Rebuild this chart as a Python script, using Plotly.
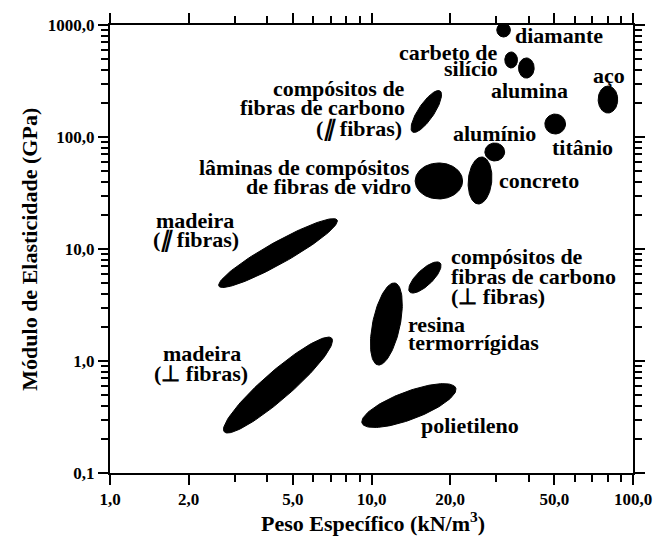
import math
import numpy as np
import plotly.graph_objects as go

# ---------------- data ----------------
materials = ["diamante", "carbeto de silício", "alumina", "aço", "titânio", "alumínio",
             "concreto", "lâminas de compósitos de fibras de vidro",
             "compósitos de fibras de carbono (∥ fibras)", "madeira (∥ fibras)",
             "madeira (⊥ fibras)", "compósitos de fibras de carbono (⊥ fibras)",
             "resina termorrígidas", "polietileno"]
# centre of each region (specific weight kN/m3, modulus GPa)
dens_center = [32.0, 34.2, 39.1, 80.2, 50.4, 29.6, 26.0, 18.1, 16.2, 4.39, 4.39, 16.0, 11.4, 13.9]
mod_center = [902, 487, 413, 216, 130.6, 73.5, 40.9, 40.5, 169, 9.2, 0.61, 5.57, 2.14, 0.40]
# end of the major axis of each region
dens_tip = [32.0, 34.2, 39.1, 80.2, 55.2, 32.3, 26.5, 22.3, 18.3, 7.39, 7.05, 18.3, 12.3, 21.0]
mod_tip = [1042, 574, 508, 285, 130.6, 73.5, 66.3, 40.5, 257.5, 18.15, 1.595, 7.5, 4.97, 0.574]

# label lines: text, specific weight, modulus, anchor
label_text = ["diamante", "carbeto de", "silício", "alumina", "aço",
              "compósitos de", "fibras de carbono", "(<i>∥</i> fibras)",
              "alumínio", "titânio", "lâminas de compósitos", "de fibras de vidro",
              "concreto", "madeira", "(<i>∥</i> fibras)",
              "compósitos de", "fibras de carbono", "(⊥ fibras)",
              "resina", "termorrígidas", "madeira", "(⊥ fibras)", "polietileno"]
label_dens = [34.9, 30.9, 30.9, 40.1, 80.6, 13.64, 13.64, 13.3, 29.6, 63.9, 14.24, 14.37,
              30.2, 2.118, 2.136, 19.77, 19.77, 19.77, 13.52, 13.52, 2.25, 2.23, 23.7]
label_mod = [798, 574, 413, 257.6, 357.7, 273.8, 181.6, 117.9, 106.4, 81.4, 52.9, 35.8,
             40.5, 17.8, 12.03, 8.66, 5.74, 3.73, 2.10, 1.478, 1.155, 0.781, 0.268]
label_anchor = ["left", "right", "right", "center", "center", "right", "right", "right",
                "center", "center", "right", "right", "left", "center", "center",
                "left", "left", "left", "left", "left", "center", "center", "center"]

x_tickvals = [1, 2, 5, 10, 20, 50, 100]
x_ticktext = ["1,0", "2,0", "5,0", "10,0", "20,0", "50,0", "100,0"]
y_tickvals = [0.1, 1, 10, 100, 1000]
y_ticktext = ["0,1", "1,0", "10,0", "100,0", "1000,0"]

# ---------------- style / layout ----------------
W, H = 664, 541
ML, MT = 110, 25
PW, PH = 534, 448
MR, MB = W - ML - PW, H - MT - PH
XR, YR = (0, 2), (-1, 3)
SX = PW / (XR[1] - XR[0])   # px per decade
SY = PH / (YR[1] - YR[0])
minor_px = [7, 6.5, 8, 10, 10, 9, 12, 18, 8, 11, 14, 8, 14, 14]

FONT = "Liberation Serif, Times New Roman, serif"

fig = go.Figure()
t = np.linspace(0, 2 * np.pi, 120)
for i, name in enumerate(materials):
    uc, vc = math.log10(dens_center[i]) * SX, math.log10(mod_center[i]) * SY
    ut, vt = math.log10(dens_tip[i]) * SX, math.log10(mod_tip[i]) * SY
    a = math.hypot(ut - uc, vt - vc)
    ex, ey = (ut - uc) / a, (vt - vc) / a
    b = minor_px[i]
    u = uc + a * np.cos(t) * ex - b * np.sin(t) * ey
    v = vc + a * np.cos(t) * ey + b * np.sin(t) * ex
    fig.add_trace(go.Scatter(x=10 ** (u / SX), y=10 ** (v / SY), mode="lines",
                             fill="toself", fillcolor="black",
                             line=dict(color="black", width=1), name=name,
                             hoverinfo="name", showlegend=False))

for txt, xd, yd, anc in zip(label_text, label_dens, label_mod, label_anchor):
    fig.add_annotation(x=math.log10(xd), y=math.log10(yd), xref="x", yref="y",
                       text=txt, showarrow=False, xanchor=anc, yanchor="middle",
                       font=dict(family=FONT, size=22, color="black", weight="bold"))

axis_common = dict(type="log", showline=True, linecolor="black", linewidth=2,
                   mirror="ticks", ticks="outside", ticklen=10, tickwidth=2,
                   tickcolor="black", showgrid=False, zeroline=False,
                   tickfont=dict(family=FONT, size=17, color="black", weight="bold"))

x_minor = [v * d for d in (1, 10) for v in (3, 4, 6, 7, 8, 9)]
y_minor = [v * d for d in (0.1, 1, 10, 100) for v in range(2, 10)]

fig.update_xaxes(range=list(XR), tickvals=x_tickvals, ticktext=x_ticktext,
                 minor=dict(tickvals=x_minor, ticks="outside", ticklen=7,
                            tickwidth=2, tickcolor="black", showgrid=False),
                 **axis_common)
fig.update_yaxes(range=list(YR), tickvals=y_tickvals, ticktext=y_ticktext,
                 minor=dict(tickvals=y_minor, ticks="outside", ticklen=7,
                            tickwidth=2, tickcolor="black", showgrid=False),
                 **axis_common)

fig.add_annotation(text="Peso Específico (kN/m<sup>3</sup>)", xref="paper", yref="paper",
                   x=(379 - ML) / PW, y=-(522 - MT - PH) / PH, xanchor="center",
                   yanchor="middle", showarrow=False,
                   font=dict(family=FONT, size=22, color="black", weight="bold"))
fig.add_annotation(text="Módulo de Elasticidade (GPa)", xref="paper", yref="paper",
                   x=-(ML - 27) / PW, y=1 - (249 - MT) / PH, xanchor="center",
                   yanchor="middle", textangle=-90, showarrow=False,
                   font=dict(family=FONT, size=22, color="black", weight="bold"))

fig.update_layout(width=W, height=H, margin=dict(l=ML, r=MR, t=MT, b=MB),
                  paper_bgcolor="white", plot_bgcolor="white",
                  font=dict(family=FONT, color="black"))

fig.write_html("out.html", config={"staticPlot": True, "displayModeBar": False},
               post_script="document.body.style.margin='0';"
                           "document.body.style.overflow='hidden';")
